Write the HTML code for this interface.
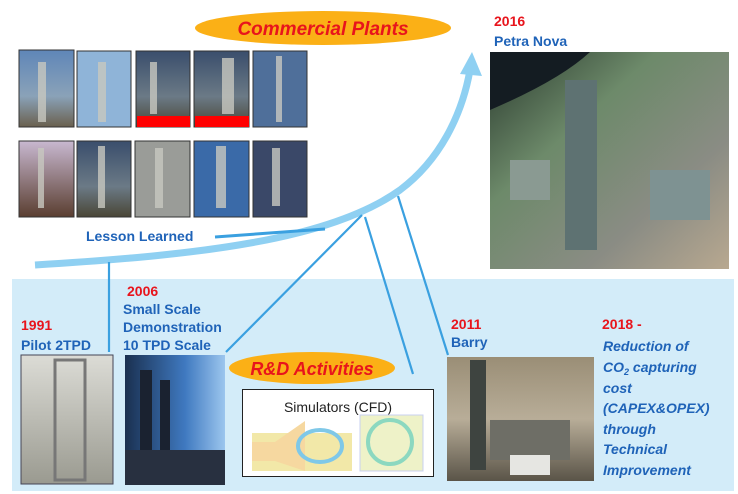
<!DOCTYPE html>
<html><head><meta charset="utf-8"><style>
html,body{margin:0;padding:0;background:#fff;}
svg{display:block;}
text{font-family:"Liberation Sans",Arial,sans-serif;font-weight:bold;}
</style></head><body>
<svg width="738" height="494" viewBox="0 0 738 494" xmlns="http://www.w3.org/2000/svg">
<defs>
<linearGradient id="sky" x1="0" y1="0" x2="0" y2="1"><stop offset="0" stop-color="#5f86b8"/><stop offset="0.6" stop-color="#8aa2b8"/><stop offset="1" stop-color="#6a604e"/></linearGradient>
<linearGradient id="sky2" x1="0" y1="0" x2="0" y2="1"><stop offset="0" stop-color="#3a4e6c"/><stop offset="0.6" stop-color="#6b7a86"/><stop offset="1" stop-color="#4a4636"/></linearGradient>
<linearGradient id="pink" x1="0" y1="0" x2="0" y2="1"><stop offset="0" stop-color="#c8b8d0"/><stop offset="1" stop-color="#5a3e30"/></linearGradient>
<linearGradient id="pn" x1="0" y1="0" x2="1" y2="1"><stop offset="0" stop-color="#2a3a2e"/><stop offset="0.35" stop-color="#6d8a6a"/><stop offset="0.7" stop-color="#8a8c84"/><stop offset="1" stop-color="#b8a890"/></linearGradient>
<linearGradient id="p91" x1="0" y1="0" x2="0" y2="1"><stop offset="0" stop-color="#dcdcd6"/><stop offset="1" stop-color="#9a9a90"/></linearGradient>
<linearGradient id="p06" x1="0" y1="0" x2="1" y2="0"><stop offset="0" stop-color="#1a3050"/><stop offset="0.6" stop-color="#3f79c0"/><stop offset="1" stop-color="#9cc6ee"/></linearGradient>
<linearGradient id="barry" x1="0" y1="0" x2="0" y2="1"><stop offset="0" stop-color="#9a8e76"/><stop offset="0.5" stop-color="#b8ad98"/><stop offset="1" stop-color="#5a5448"/></linearGradient>
</defs>
<rect x="12" y="279" width="722" height="212" fill="#d3ecf9"/>
<!-- top photos -->
<g stroke="#333" stroke-width="1">
<rect x="19" y="50" width="55" height="77" fill="url(#sky)"/>
<rect x="77" y="51" width="54" height="76" fill="#8fb4d8"/>
<rect x="136" y="51" width="54" height="76" fill="url(#sky2)"/>
<rect x="194" y="51" width="55" height="76" fill="url(#sky2)"/>
<rect x="253" y="51" width="54" height="76" fill="#4f6f9a"/>
<rect x="19" y="141" width="55" height="76" fill="url(#pink)"/>
<rect x="77" y="141" width="54" height="76" fill="url(#sky2)"/>
<rect x="135" y="141" width="55" height="76" fill="#9a9c98"/>
<rect x="194" y="141" width="55" height="76" fill="#3a6aa8"/>
<rect x="253" y="141" width="54" height="76" fill="#3a4868"/>
</g>
<rect x="137" y="116" width="53" height="11" fill="#f00"/>
<rect x="195" y="116" width="54" height="11" fill="#f00"/>
<g fill="#c8c8c0" opacity="0.8">
<rect x="38" y="62" width="8" height="60"/><rect x="98" y="62" width="8" height="60"/><rect x="150" y="62" width="7" height="52"/><rect x="222" y="58" width="12" height="56"/><rect x="276" y="56" width="6" height="66"/>
<rect x="38" y="148" width="6" height="60"/><rect x="98" y="146" width="7" height="62"/><rect x="155" y="148" width="8" height="60"/><rect x="216" y="146" width="10" height="62"/><rect x="272" y="148" width="8" height="58"/>
</g>
<!-- Commercial plants ellipse -->
<ellipse cx="323" cy="28" rx="128" ry="17" fill="#fbb016"/>
<text x="323" y="35" font-size="19" font-style="italic" fill="#e8141c" text-anchor="middle">Commercial Plants</text>
<!-- Petra Nova -->
<text x="494" y="26" font-size="14" fill="#e8141c">2016</text>
<text x="494" y="46" font-size="14" fill="#1f63b8">Petra Nova</text>
<rect x="490" y="52" width="239" height="217" fill="url(#pn)"/>
<path d="M490 52 H590 Q560 80 490 110 Z" fill="#141c22"/>
<rect x="565" y="80" width="32" height="170" fill="#5e7272"/>
<rect x="650" y="170" width="60" height="50" fill="#7e9292"/>
<rect x="510" y="160" width="40" height="40" fill="#8a9a92"/>
<!-- curve -->
<path d="M35 265 C200 255 330 240 400 190 C440 160 462 115 470 70" fill="none" stroke="#8fd0f2" stroke-width="7"/>
<polygon points="472,52 460,74 482,76" fill="#8fd0f2"/>
<path d="M215 237 L325 229" stroke="#3aa0e0" stroke-width="3"/>
<text x="86" y="241" font-size="14" fill="#1f63b8">Lesson Learned</text>
<g stroke="#3aa0e0" stroke-width="2.2" fill="none">
<line x1="109" y1="262" x2="109" y2="352"/>
<line x1="362" y1="215" x2="226" y2="352"/>
<line x1="365" y1="217" x2="413" y2="374"/>
<line x1="398" y1="196" x2="448" y2="355"/>
</g>
<!-- bottom texts -->
<text x="21" y="330" font-size="14" fill="#e8141c">1991</text>
<text x="21" y="350" font-size="14" fill="#1f63b8">Pilot 2TPD</text>
<text x="127" y="296" font-size="14" fill="#e8141c">2006</text>
<text x="123" y="314" font-size="14" fill="#1f63b8">Small Scale</text>
<text x="123" y="332" font-size="14" fill="#1f63b8">Demonstration</text>
<text x="123" y="350" font-size="14" fill="#1f63b8">10 TPD Scale</text>
<text x="451" y="329" font-size="14" fill="#e8141c">2011</text>
<text x="451" y="347" font-size="14" fill="#1f63b8">Barry</text>
<text x="602" y="329" font-size="14" fill="#e8141c">2018 -</text>
<g font-size="14" font-style="italic" fill="#1f63b8">
<text x="603" y="351">Reduction of</text>
<text x="603" y="372">CO<tspan font-size="9" dy="3">2</tspan><tspan dy="-3"> capturing</tspan></text>
<text x="603" y="393">cost</text>
<text x="603" y="413">(CAPEX&amp;OPEX)</text>
<text x="603" y="434">through</text>
<text x="603" y="454">Technical</text>
<text x="603" y="475">Improvement</text>
</g>
<!-- bottom photos -->
<rect x="21" y="355" width="92" height="129" fill="url(#p91)" stroke="#445" stroke-width="1"/>
<rect x="55" y="360" width="30" height="120" fill="none" stroke="#777" stroke-width="3"/>
<rect x="125" y="355" width="100" height="130" fill="url(#p06)"/>
<rect x="140" y="370" width="12" height="112" fill="#1a2230"/><rect x="160" y="380" width="10" height="102" fill="#1a2230"/>
<rect x="125" y="450" width="100" height="35" fill="#283040"/>
<ellipse cx="312" cy="368" rx="83" ry="16" fill="#fbb016"/>
<text x="312" y="375" font-size="18" font-style="italic" fill="#e8141c" text-anchor="middle">R&amp;D Activities</text>
<rect x="242.5" y="389.5" width="191" height="87" fill="#fff" stroke="#222" stroke-width="1"/>
<text x="338" y="412" font-size="14" font-weight="normal" style="font-weight:normal" fill="#222" text-anchor="middle">Simulators (CFD)</text>
<rect x="252" y="433" width="100" height="38" fill="#f2e8a8"/>
<path d="M252 442 H275 L305 421 V471 L275 461 H252 Z" fill="#f6d8a0"/>
<ellipse cx="320" cy="446" rx="22" ry="16" fill="none" stroke="#7fc8e8" stroke-width="4"/>
<rect x="360" y="415" width="63" height="56" fill="#eef2c8" stroke="#c8d0f0"/>
<ellipse cx="390" cy="442" rx="22" ry="22" fill="none" stroke="#8cd8c0" stroke-width="4"/>
<rect x="447" y="357" width="147" height="124" fill="url(#barry)"/>
<rect x="470" y="360" width="16" height="110" fill="#3e4440"/>
<rect x="490" y="420" width="80" height="40" fill="#6e6e66"/>
<rect x="510" y="455" width="40" height="20" fill="#e6e6e2"/>
</svg>
</body></html>
